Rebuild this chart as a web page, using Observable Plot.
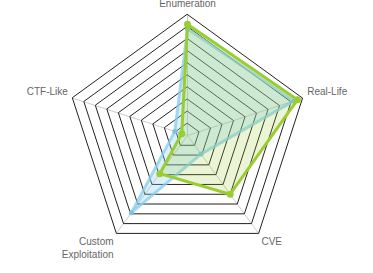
<!DOCTYPE html>
<html>
<head>
<meta charset="utf-8">
<script src="https://cdn.jsdelivr.net/npm/d3@7"></script>
<script src="https://cdn.jsdelivr.net/npm/@observablehq/plot@0.6"></script>
<style>
  html, body { margin: 0; padding: 0; background: #fff; }
  #chart { width: 373px; height: 273px; }
</style>
</head>
<body>
<div id="chart"></div>
<script>
// ---- data ----
const axes = ["Enumeration", "Real-Life", "CVE", "Custom\nExploitation", "CTF-Like"];
const greenValues = [0.92, 0.955, 0.6, 0.39, 0.05];
const blueValues = [0.88, 0.925, 0.19, 0.79, 0.11];
const levels = [0.1, 0.2, 0.3, 0.4, 0.5, 0.6, 0.7, 0.8, 0.9, 1.0];

// ---- geometry helpers (polar -> cartesian in data units) ----
const n = axes.length;
const ang = i => i * 2 * Math.PI / n;
const px = (i, r) => r * Math.sin(ang(i));
const py = (i, r) => r * Math.cos(ang(i));

const gridPts = levels.flatMap(l => axes.map((a, i) => ({level: l, x: px(i, l), y: py(i, l)})));
const spokes = axes.map((a, i) => ({x: px(i, 1), y: py(i, 1)}));
const seriesPts = (vals) => vals.map((v, i) => ({x: px(i, v), y: py(i, v)}));
const greenPts = seriesPts(greenValues);
const bluePts = seriesPts(blueValues);

const labelR = 1.04;
const labels = axes.map((a, i) => {
  const s = Math.sin(ang(i)), c = Math.cos(ang(i));
  const anchor = Math.abs(s) < 0.1 ? "middle" : (s > 0 ? "start" : "end");
  const line = c > 0 ? "bottom" : "top";
  const dy = c > 0.8 ? -3 : -2;
  return {text: a, x: px(i, labelR), y: py(i, labelR), anchor, line, dy};
});
const groups = d3.groups(labels, d => d.anchor + "|" + d.line + "|" + d.dy);

const R = 121, cx = 187, cy = 135, W = 373, H = 273;
const GREEN = "#9acd32", BLUE = "#87ceeb";

const chart = Plot.plot({
  width: W, height: H,
  margin: 0,
  x: {domain: [-cx / R, (W - cx) / R], axis: null},
  y: {domain: [-(H - cy) / R, cy / R], axis: null},
  style: {fontFamily: "'Liberation Sans', Arial, sans-serif", background: "#fff"},
  marks: [
    Plot.link(spokes, {x1: 0, y1: 0, x2: "x", y2: "y", stroke: "#cccccc", strokeWidth: 1}),
    Plot.line(gridPts, {x: "x", y: "y", z: "level", curve: "linear-closed", stroke: "#222", strokeWidth: 1}),
    Plot.line(bluePts, {x: "x", y: "y", curve: "linear-closed", fill: BLUE, fillOpacity: 0.3,
      stroke: BLUE, strokeOpacity: 0.75, strokeWidth: 3}),
    Plot.dot(bluePts, {x: "x", y: "y", r: 2.5, fill: "#7cc3df", stroke: "none"}),
    Plot.line(greenPts, {x: "x", y: "y", curve: "linear-closed", fill: GREEN, fillOpacity: 0.2,
      stroke: GREEN, strokeWidth: 3}),
    Plot.dot(greenPts, {x: "x", y: "y", r: 3.5, fill: GREEN, stroke: "none"}),
    ...groups.map(([k, g]) => Plot.text(g, {
      x: "x", y: "y", text: "text",
      textAnchor: g[0].anchor, lineAnchor: g[0].line, dy: g[0].dy,
      lineHeight: 1.33, fontSize: 10, fill: "#666"
    }))
  ]
});
document.getElementById("chart").appendChild(chart);
</script>
</body>
</html>
